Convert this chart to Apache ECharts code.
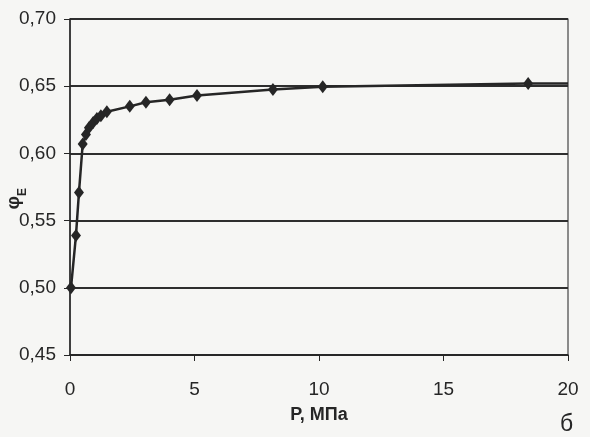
<!DOCTYPE html>
<html><head><meta charset="utf-8">
<script src="https://cdn.jsdelivr.net/npm/echarts@6/dist/echarts.min.js"></script>
<style>html,body{margin:0;padding:0;background:#f6f6f4}#c{width:590px;height:437px}</style>
</head><body><div id="c"></div>
<script>
const pressure = [0.04, 0.24, 0.36, 0.51, 0.64, 0.76, 0.93, 1.08, 1.24, 1.48, 2.4, 3.05, 4.0, 5.1, 8.15, 10.15, 18.4, 20];
const phiE =     [0.500, 0.539, 0.571, 0.607, 0.614, 0.619, 0.623, 0.626, 0.628, 0.631, 0.635, 0.638, 0.640, 0.643, 0.6475, 0.6495, 0.652, 0.652];
const xTicks = [0, 5, 10, 15, 20];
const yTicks = [0.45, 0.50, 0.55, 0.60, 0.65, 0.70];
const xName = 'P, МПа';
const yName = 'φ';
const ySub = 'E';
const cornerLabel = 'б';

const chart = echarts.init(document.getElementById('c'));
const font = '"Liberation Sans Narrow", "Arial Narrow", "Liberation Sans", sans-serif';
const ink = '#262626';
chart.setOption({
  backgroundColor: '#f6f6f4',
  animation: false,
  grid: {left: 70, right: 22, top: 19, bottom: 82, show: true, borderColor: '#444', borderWidth: 1.2},
  xAxis: {
    type: 'value', min: xTicks[0], max: xTicks[xTicks.length-1], interval: 5,
    axisLine: {show: true, lineStyle: {color: ink, width: 1.5}},
    axisTick: {show: true, inside: false, length: 6, lineStyle: {color: ink}},
    axisLabel: {color: ink, fontFamily: font, fontSize: 19, margin: 25},
    splitLine: {show: false},
    name: xName, nameLocation: 'middle', nameGap: 51,
    nameTextStyle: {color: ink, fontFamily: font, fontSize: 18, fontWeight: 'bold'}
  },
  yAxis: {
    type: 'value', min: 0.45, max: 0.70, interval: 0.05,
    axisLine: {show: true, lineStyle: {color: ink, width: 1.5}},
    axisTick: {show: true, length: 6, lineStyle: {color: ink}},
    axisLabel: {color: ink, fontFamily: font, fontSize: 19, margin: 14,
      formatter: v => v.toFixed(2).replace('.', ',')},
    splitLine: {show: true, lineStyle: {color: '#2e2e2e', width: 1.8}}
  },
  graphic: [
    {type: 'text', left: 4, top: 188, rotation: Math.PI/2,
     style: {text: '{a|' + yName + '}{b|' + ySub + '}', rich: {
       a: {fontFamily: font, fontSize: 19, fontWeight: 'bold', fill: ink},
       b: {fontFamily: font, fontSize: 12, fontWeight: 'bold', fill: ink, verticalAlign: 'bottom', padding:[0,0,-6,0]}
     }}},
    {type: 'text', left: 560, top: 413, style: {text: cornerLabel, fontFamily: font, fontSize: 23, fill: ink}}
  ],
  series: [{
    type: 'line',
    data: pressure.map((p, i) => i === pressure.length - 1 ? {value: [p, phiE[i]], symbol: 'none'} : [p, phiE[i]]),
    symbol: 'diamond', symbolSize: [10, 13],
    lineStyle: {color: ink, width: 2.5},
    itemStyle: {color: ink}
  }]
});
</script></body></html>
